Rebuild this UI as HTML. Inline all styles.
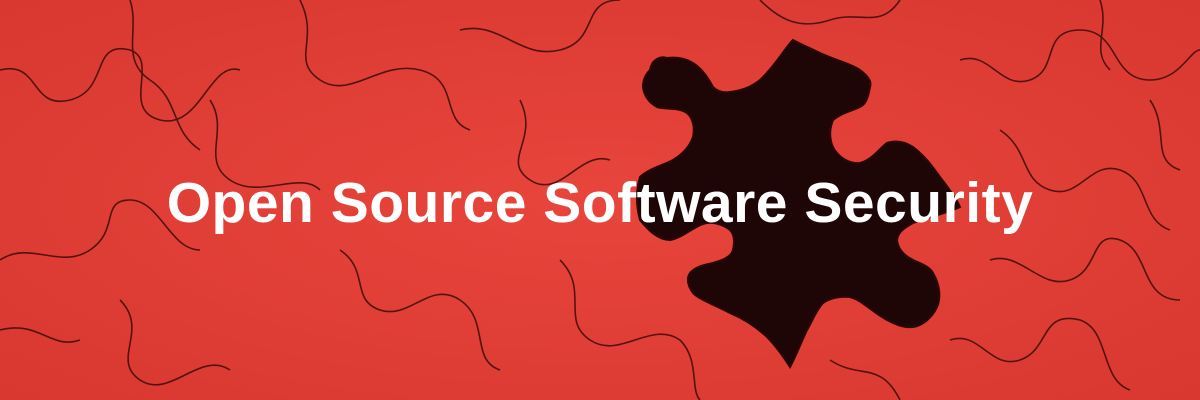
<!DOCTYPE html>
<html><head><meta charset="utf-8"><style>
html,body{margin:0;padding:0;width:1200px;height:400px;overflow:hidden;background:#e23f37}
svg{position:absolute;left:0;top:0}
.t{position:absolute;left:0;top:170px;width:1200px;text-align:center;font-family:"Liberation Sans",sans-serif;font-weight:bold;font-size:57px;color:#fff;letter-spacing:0.5px}
</style></head><body>
<svg width="1200" height="400" viewBox="0 0 1200 400">
<defs><radialGradient id="g" cx="0.5" cy="0.5" r="0.7"><stop offset="0" stop-color="#e8453c"/><stop offset="1" stop-color="#d83830"/></radialGradient></defs>
<rect width="1200" height="400" fill="url(#g)"/>
<g fill="none" stroke="#3a0c0a" stroke-width="1.6" opacity="0.85">
<path d="M0 70 C40 60 30 110 70 100 C110 90 90 40 130 50 C160 60 120 110 160 120 C200 130 210 60 240 70"/>
<path d="M130 0 C140 30 120 60 150 80 C180 100 170 130 200 150"/>
<path d="M210 100 C230 130 200 160 230 180 C260 200 300 170 320 190"/>
<path d="M0 260 C30 240 60 270 90 250 C120 230 100 200 130 200 C160 200 170 250 200 250"/>
<path d="M300 0 C320 40 290 60 320 80 C350 100 380 60 420 70 C460 80 440 120 470 130"/>
<path d="M460 30 C500 20 520 60 560 50 C600 40 580 0 620 0"/>
<path d="M520 100 C540 140 500 160 530 180 C560 200 580 150 610 160"/>
<path d="M340 250 C370 270 350 300 380 310 C410 320 430 280 460 300 C490 320 470 360 500 370"/>
<path d="M120 300 C150 330 110 360 140 380 C170 400 200 350 230 370"/>
<path d="M0 330 C40 320 50 350 80 340"/>
<path d="M560 260 C590 290 560 320 590 340 C620 360 650 320 680 340 C700 360 690 390 700 400"/>
<path d="M960 60 C990 50 1000 90 1030 80 C1060 70 1040 30 1080 30 C1120 30 1110 80 1150 80 C1180 80 1190 50 1200 50"/>
<path d="M1100 0 C1110 30 1090 50 1110 70"/>
<path d="M1000 130 C1030 150 1020 180 1050 190 C1080 200 1090 160 1120 170 C1150 180 1140 220 1170 230"/>
<path d="M1150 100 C1170 130 1150 160 1180 170"/>
<path d="M990 260 C1020 250 1040 290 1070 280 C1100 270 1090 230 1120 240 C1150 250 1140 300 1180 300"/>
<path d="M950 340 C980 330 990 370 1020 360 C1050 350 1040 310 1080 320 C1110 330 1100 380 1130 390"/>
<path d="M760 0 C780 20 800 30 830 20 C860 10 880 30 900 0"/>
<path d="M830 360 C860 380 880 360 900 400"/>
</g>
<path fill="#1e0606" stroke="#2a0807" stroke-width="2" d="M650 70 C652 58 662 56 667 58 C685 56 700 62 713 87 C718 92 724 93 730 92 C745 90 752 86 760 80 C775 66 785 48 793 40 C800 44 810 48 820 53 C835 60 852 64 860 70 C868 76 872 82 870 87 C868 98 866 104 860 107 C848 112 840 114 833 120 C828 132 830 146 837 153 C843 160 852 164 860 163 C872 160 880 148 887 143 C896 140 905 142 913 147 C925 156 932 166 940 177 C950 190 957 200 960 207 C945 214 925 218 913 223 C904 228 898 232 897 240 C898 250 905 256 913 260 C922 264 930 267 933 273 C940 285 941 298 937 307 C932 318 922 326 913 327 C903 328 895 324 887 320 C872 312 862 300 850 297 C840 296 830 298 823 303 C815 312 812 322 807 330 C800 345 795 358 790 367 C783 356 775 345 767 337 C755 326 742 318 730 313 C715 305 700 300 693 293 C688 286 686 279 690 273 C696 266 705 265 713 263 C723 260 731 257 733 250 C735 241 734 234 730 230 C724 225 715 222 707 223 C695 225 683 238 670 240 C658 240 648 230 640 220 C636 205 636 190 640 177 C650 168 664 165 673 160 C683 154 690 146 693 137 C695 128 693 118 687 113 C678 107 667 110 657 107 C648 102 644 95 643 87 C643 80 646 74 650 70 Z"/>
</svg>
<div class="t">Open Source Software Security</div>
</body></html>
